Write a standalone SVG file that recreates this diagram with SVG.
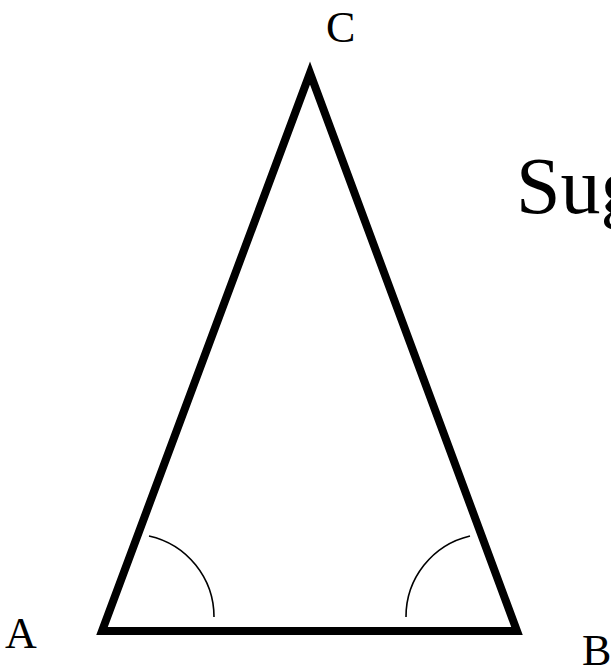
<svg xmlns="http://www.w3.org/2000/svg" width="611" height="669" viewBox="0 0 611 669">
<style>
.lbl{font-family:"Liberation Serif","DejaVu Serif",serif;font-size:44px;fill:#000}
.tri{fill:none;stroke:#000;stroke-width:8;stroke-linejoin:miter;stroke-miterlimit:10}
.arc{fill:none;stroke:#000;stroke-width:1.6}
</style>
<rect width="611" height="669" fill="#fff"/>
<g id="triangle">
<polygon class="tri" points="102,631 517,631 310,73"/>
</g>
<g id="angles">
<path class="arc" d="M149,536 A83,83 0 0 1 214,617"/>
<path class="arc" d="M470,536 A83,83 0 0 0 406,617"/>
</g>
<g id="labels">
<text class="lbl" x="326" y="42">C</text>
<text class="lbl" x="5" y="648">A</text>
<text class="lbl" x="582" y="665">B</text>
<text class="lbl" x="516" y="213" style="font-size:80px">Sug</text>
</g>
</svg>
